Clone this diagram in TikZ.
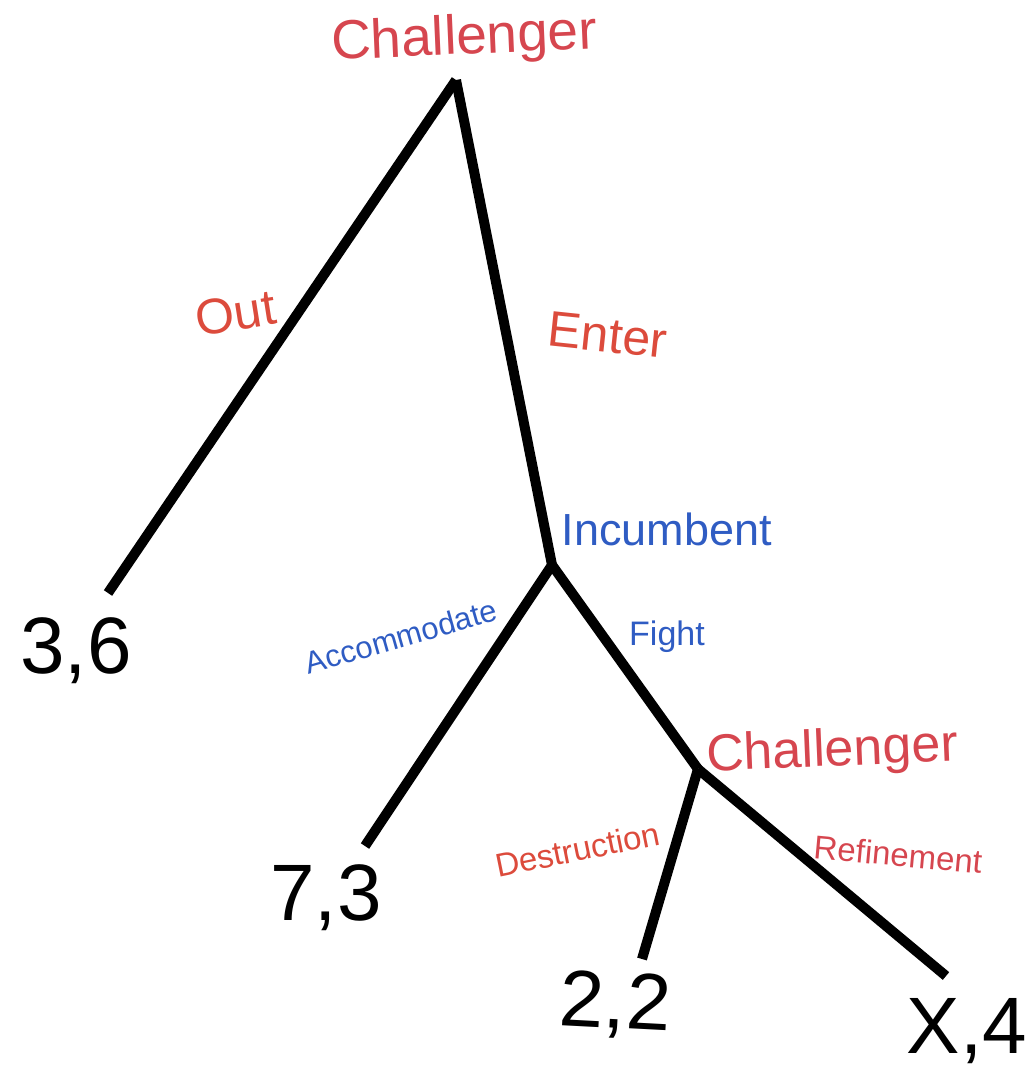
\documentclass[tikz,border=0pt]{standalone}
\usepackage{fontspec}
\setmainfont{Liberation Sans}
\definecolor{chred}{HTML}{D6464F}
\definecolor{actred}{HTML}{DC4B3C}
\definecolor{incblue}{HTML}{2F5CC3}
\tikzset{
  edge/.style={line width=10pt, line cap=butt, line join=miter, black},
  player/.style={anchor=base, inner sep=0pt, font=\fontsize{55}{60}\selectfont},
  bigact/.style={anchor=base, inner sep=0pt, text=actred, font=\fontsize{50}{56}\selectfont},
  smallact/.style={anchor=base, inner sep=0pt, font=\fontsize{33}{38}\selectfont},
  payoff/.style={anchor=base, inner sep=0pt, font=\fontsize{80}{90}\selectfont},
}
\begin{document}
\begin{tikzpicture}[x=1pt,y=-1pt]
\useasboundingbox (0,0) rectangle (1033,1071);
% decision points and ends
\coordinate (root) at (456,80);
\coordinate (inc) at (552,565);
\coordinate (ch2) at (698,769);
\coordinate (outend) at (108,593);
\coordinate (accend) at (365,846);
\coordinate (desend) at (642,959);
\coordinate (refend) at (946,976);
% edges
\draw[edge] (root) -- (outend);
\draw[edge] (root) -- (inc);
\draw[edge] (inc) -- (accend);
\draw[edge] (inc) -- (ch2);
\draw[edge] (ch2) -- (desend);
\draw[edge] (ch2) -- (refend);
% players
\node[player, text=chred, rotate=2.5] (p1) at (465,54) {Challenger};
\node[player, text=incblue, font=\fontsize{45}{50}\selectfont] (p2) at (667,545) {Incumbent};
\node[player, text=chred, font=\fontsize{52}{56}\selectfont, rotate=2.4] (p3) at (833,766) {Challenger};
% actions
\node[bigact, rotate=9] (aout) at (238,330) {Out};
\node[bigact, rotate=-6] (aenter) at (606,352) {Enter};
\node[smallact, text=incblue, font=\fontsize{31}{36}\selectfont, rotate=16] (aacc) at (404,647) {Accommodate};
\node[smallact, text=incblue, font=\fontsize{34}{38}\selectfont] (afight) at (667,645) {Fight};
\node[smallact, text=actred, rotate=11.5] (ades) at (580,861) {Destruction};
\node[smallact, text=chred, rotate=-5.2] (aref) at (897,866) {Refinement};
% payoffs
\node[payoff] (o1) at (76,673) {3,6};
\node[payoff] (o2) at (326,920) {7,3};
\node[payoff, rotate=-3] (o3) at (614,1028) {2,2};
\node[payoff] (o4) at (967,1053) {X,4};
\end{tikzpicture}
\end{document}
